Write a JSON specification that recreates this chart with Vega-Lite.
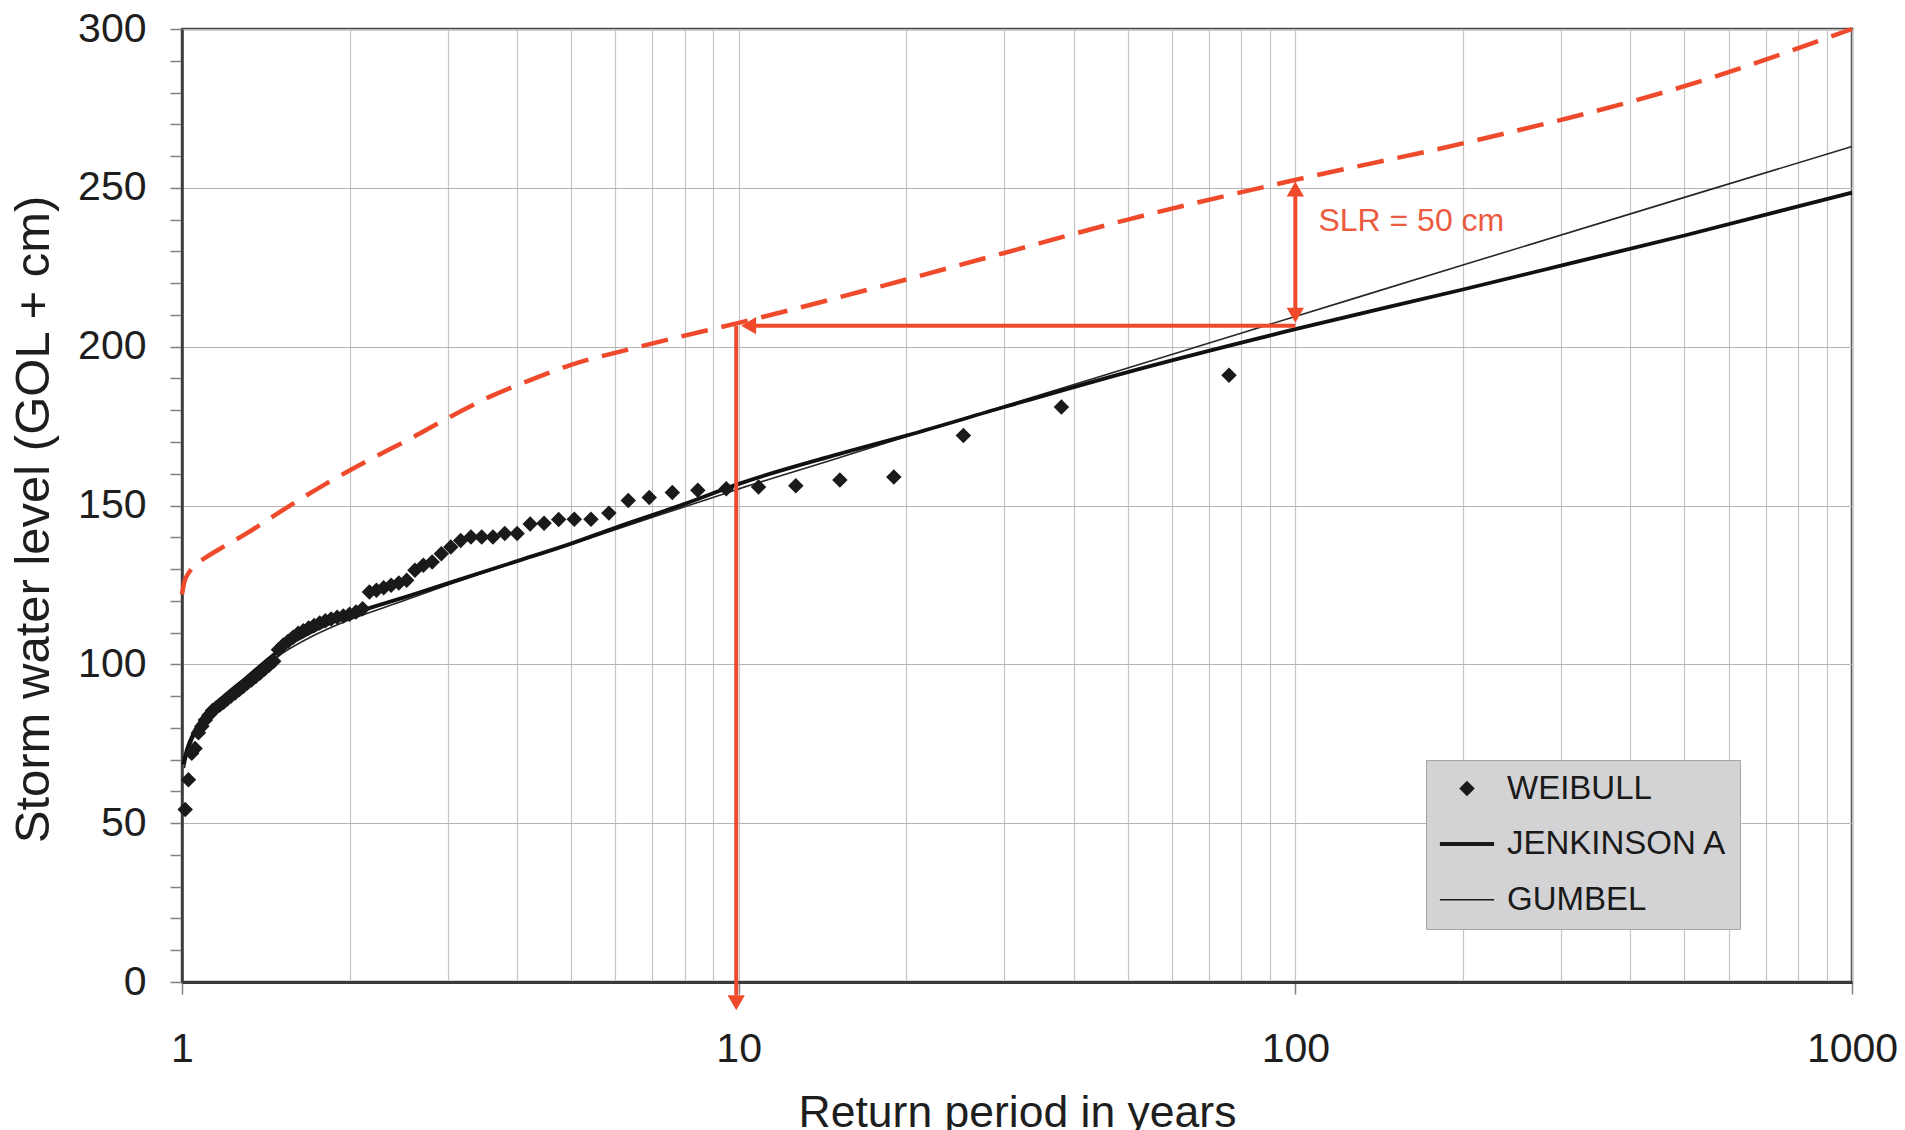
{
  "$schema": "https://vega.github.io/schema/vega-lite/v6.json",
  "width": 1670,
  "height": 953,
  "autosize": {"type": "none"},
  "padding": {"left": 182, "top": 29, "right": 53, "bottom": 148},
  "background": "white",
  "config": {
    "font": "Liberation Sans",
    "view": {"stroke": "#4a4a4a", "strokeWidth": 2.5},
    "axis": {
      "labelFont": "Liberation Sans",
      "titleFont": "Liberation Sans",
      "labelColor": "#1e1e1e",
      "titleColor": "#1e1e1e",
      "titleFontWeight": "normal",
      "labelFontSize": 41,
      "tickSize": 12,
      "tickColor": "#808080",
      "tickWidth": 1.5,
      "domainColor": "#3a3a3a",
      "labelOverlap": false,
      "labelFlush": false
    }
  },
  "datasets": {
    "weibull": [
      {"T": 76, "v": 191, "series": "WEIBULL"},
      {"T": 38, "v": 181, "series": "WEIBULL"},
      {"T": 25.3333, "v": 172, "series": "WEIBULL"},
      {"T": 19, "v": 159, "series": "WEIBULL"},
      {"T": 15.2, "v": 158, "series": "WEIBULL"},
      {"T": 12.6667, "v": 156.2, "series": "WEIBULL"},
      {"T": 10.8571, "v": 155.8, "series": "WEIBULL"},
      {"T": 9.5, "v": 155.3, "series": "WEIBULL"},
      {"T": 8.4444, "v": 154.8, "series": "WEIBULL"},
      {"T": 7.6, "v": 154.1, "series": "WEIBULL"},
      {"T": 6.9091, "v": 152.5, "series": "WEIBULL"},
      {"T": 6.3333, "v": 151.6, "series": "WEIBULL"},
      {"T": 5.8462, "v": 147.6, "series": "WEIBULL"},
      {"T": 5.4286, "v": 145.7, "series": "WEIBULL"},
      {"T": 5.0667, "v": 145.7, "series": "WEIBULL"},
      {"T": 4.75, "v": 145.6, "series": "WEIBULL"},
      {"T": 4.4706, "v": 144.4, "series": "WEIBULL"},
      {"T": 4.2222, "v": 144.2, "series": "WEIBULL"},
      {"T": 4.0, "v": 141.2, "series": "WEIBULL"},
      {"T": 3.8, "v": 141.2, "series": "WEIBULL"},
      {"T": 3.619, "v": 140.1, "series": "WEIBULL"},
      {"T": 3.4545, "v": 140.1, "series": "WEIBULL"},
      {"T": 3.3043, "v": 140.1, "series": "WEIBULL"},
      {"T": 3.1667, "v": 139, "series": "WEIBULL"},
      {"T": 3.04, "v": 136.9, "series": "WEIBULL"},
      {"T": 2.9231, "v": 134.8, "series": "WEIBULL"},
      {"T": 2.8148, "v": 132.2, "series": "WEIBULL"},
      {"T": 2.7143, "v": 131.2, "series": "WEIBULL"},
      {"T": 2.6207, "v": 129.6, "series": "WEIBULL"},
      {"T": 2.5333, "v": 126.5, "series": "WEIBULL"},
      {"T": 2.4516, "v": 125.6, "series": "WEIBULL"},
      {"T": 2.375, "v": 124.9, "series": "WEIBULL"},
      {"T": 2.303, "v": 124.1, "series": "WEIBULL"},
      {"T": 2.2353, "v": 123.3, "series": "WEIBULL"},
      {"T": 2.1714, "v": 122.8, "series": "WEIBULL"},
      {"T": 2.1111, "v": 117.5, "series": "WEIBULL"},
      {"T": 2.0541, "v": 116.5, "series": "WEIBULL"},
      {"T": 2.0, "v": 115.8, "series": "WEIBULL"},
      {"T": 1.9487, "v": 115.2, "series": "WEIBULL"},
      {"T": 1.9, "v": 114.8, "series": "WEIBULL"},
      {"T": 1.8537, "v": 114.3, "series": "WEIBULL"},
      {"T": 1.8095, "v": 113.7, "series": "WEIBULL"},
      {"T": 1.7674, "v": 113, "series": "WEIBULL"},
      {"T": 1.7273, "v": 112.2, "series": "WEIBULL"},
      {"T": 1.6889, "v": 111.4, "series": "WEIBULL"},
      {"T": 1.6522, "v": 110.6, "series": "WEIBULL"},
      {"T": 1.617, "v": 109.8, "series": "WEIBULL"},
      {"T": 1.5833, "v": 108.5, "series": "WEIBULL"},
      {"T": 1.551, "v": 107.3, "series": "WEIBULL"},
      {"T": 1.52, "v": 106.1, "series": "WEIBULL"},
      {"T": 1.4902, "v": 104.6, "series": "WEIBULL"},
      {"T": 1.4615, "v": 101, "series": "WEIBULL"},
      {"T": 1.434, "v": 99.7, "series": "WEIBULL"},
      {"T": 1.4074, "v": 98.5, "series": "WEIBULL"},
      {"T": 1.3818, "v": 97.3, "series": "WEIBULL"},
      {"T": 1.3571, "v": 96.2, "series": "WEIBULL"},
      {"T": 1.3333, "v": 95.1, "series": "WEIBULL"},
      {"T": 1.3103, "v": 94.1, "series": "WEIBULL"},
      {"T": 1.2881, "v": 93, "series": "WEIBULL"},
      {"T": 1.2667, "v": 92, "series": "WEIBULL"},
      {"T": 1.2459, "v": 91, "series": "WEIBULL"},
      {"T": 1.2258, "v": 90, "series": "WEIBULL"},
      {"T": 1.2063, "v": 89.1, "series": "WEIBULL"},
      {"T": 1.1875, "v": 88.1, "series": "WEIBULL"},
      {"T": 1.1692, "v": 87.2, "series": "WEIBULL"},
      {"T": 1.1515, "v": 86.3, "series": "WEIBULL"},
      {"T": 1.1343, "v": 85.5, "series": "WEIBULL"},
      {"T": 1.1176, "v": 84, "series": "WEIBULL"},
      {"T": 1.1014, "v": 82.5, "series": "WEIBULL"},
      {"T": 1.0857, "v": 80.5, "series": "WEIBULL"},
      {"T": 1.0704, "v": 78.5, "series": "WEIBULL"},
      {"T": 1.0556, "v": 73.5, "series": "WEIBULL"},
      {"T": 1.0411, "v": 72, "series": "WEIBULL"},
      {"T": 1.027, "v": 63.7, "series": "WEIBULL"},
      {"T": 1.0133, "v": 54.3, "series": "WEIBULL"}
    ],
    "gumbel": [
      {"T": 1.01, "v": 67.3},
      {"T": 1.02, "v": 71.0},
      {"T": 1.05, "v": 77.0},
      {"T": 1.1, "v": 82.5},
      {"T": 1.2, "v": 89.5},
      {"T": 1.3, "v": 94.5},
      {"T": 1.5, "v": 103},
      {"T": 1.7, "v": 108.5},
      {"T": 2, "v": 114},
      {"T": 2.5, "v": 120},
      {"T": 3, "v": 125},
      {"T": 4, "v": 132.3},
      {"T": 5, "v": 137.8},
      {"T": 6, "v": 142.4},
      {"T": 8, "v": 149.6},
      {"T": 10, "v": 155.2},
      {"T": 15, "v": 164.8},
      {"T": 20, "v": 171.7},
      {"T": 30, "v": 181.3},
      {"T": 50, "v": 193.3},
      {"T": 100, "v": 209.5},
      {"T": 200, "v": 225.7},
      {"T": 500, "v": 247.0},
      {"T": 1000, "v": 263.0}
    ],
    "jenkinson": [
      {"T": 1.005, "v": 68.5},
      {"T": 1.02, "v": 73},
      {"T": 1.05, "v": 78.5},
      {"T": 1.1, "v": 84},
      {"T": 1.2, "v": 90.5},
      {"T": 1.3, "v": 95.5},
      {"T": 1.5, "v": 104.5},
      {"T": 1.7, "v": 110},
      {"T": 2, "v": 115.5},
      {"T": 2.5, "v": 121},
      {"T": 3, "v": 125.5},
      {"T": 4, "v": 132.5},
      {"T": 5, "v": 138},
      {"T": 6, "v": 143},
      {"T": 8, "v": 150.5},
      {"T": 10, "v": 156.8},
      {"T": 15, "v": 166},
      {"T": 20, "v": 172},
      {"T": 30, "v": 181},
      {"T": 50, "v": 192},
      {"T": 100, "v": 205.5},
      {"T": 200, "v": 218},
      {"T": 300, "v": 225.5},
      {"T": 500, "v": 235},
      {"T": 1000, "v": 248.5}
    ],
    "slr": [
      {"T": 1.0, "v": 122},
      {"T": 1.01, "v": 126},
      {"T": 1.03, "v": 129},
      {"T": 1.06, "v": 131.5},
      {"T": 1.1, "v": 133.5},
      {"T": 1.2, "v": 137.5},
      {"T": 1.3, "v": 141},
      {"T": 1.5, "v": 148},
      {"T": 1.8, "v": 156.5},
      {"T": 2.15, "v": 164},
      {"T": 2.6, "v": 171.5},
      {"T": 3.0, "v": 177.5},
      {"T": 3.6, "v": 184.5},
      {"T": 4.3, "v": 190},
      {"T": 5.0, "v": 194.3},
      {"T": 6.3, "v": 199},
      {"T": 7.5, "v": 202.3},
      {"T": 10, "v": 207.5},
      {"T": 13, "v": 212.5},
      {"T": 18, "v": 219},
      {"T": 30, "v": 229.5},
      {"T": 50, "v": 240},
      {"T": 100, "v": 252.5},
      {"T": 200, "v": 264},
      {"T": 500, "v": 282},
      {"T": 1000, "v": 300}
    ],
    "harrow": [{"T": 10.42, "T2": 100, "v": 206.6}],
    "varrow": [
      {"T": 9.9, "v": 206.6, "v2": -4.2},
      {"T": 100, "v": 209.9, "v2": 249.6}
    ],
    "heads": [
      {"T": 10.42, "v": 206.6, "dir": "left"},
      {"T": 9.9, "v": -6.55, "dir": "down"},
      {"T": 100, "v": 249.6, "dir": "up"},
      {"T": 100, "v": 209.9, "dir": "down"}
    ],
    "note": [{"T": 110, "v": 239.5, "label": "SLR = 50 cm"}]
  },
  "encoding": {
    "x": {
      "field": "T",
      "type": "quantitative",
      "scale": {"type": "log", "domain": [1, 1000], "nice": false},
      "axis": {
        "title": "Return period in years",
        "titleFontSize": 44.5,
        "titlePadding": 22,
        "values": [1, 2, 3, 4, 5, 6, 7, 8, 9, 10, 20, 30, 40, 50, 60, 70, 80, 90, 100, 200, 300, 400, 500, 600, 700, 800, 900, 1000],
        "labelExpr": "(datum.value == 1 || datum.value == 10 || datum.value == 100 || datum.value == 1000) ? format(datum.value, 'd') : ''",
        "labelPadding": 35,
        "tickOpacity": {"condition": {"test": "datum.value == 1 || datum.value == 10 || datum.value == 100 || datum.value == 1000", "value": 1}, "value": 0},
        "grid": true,
        "gridColor": "#c4c4c4",
        "gridWidth": 1.2,
        "domainWidth": 3
      }
    },
    "y": {
      "field": "v",
      "type": "quantitative",
      "scale": {"domain": [0, 300], "nice": false, "zero": false},
      "axis": {
        "title": "Storm water level (GOL + cm)",
        "titleFontSize": 49,
        "titlePadding": 19,
        "titleY": 490,
        "values": [0, 10, 20, 30, 40, 50, 60, 70, 80, 90, 100, 110, 120, 130, 140, 150, 160, 170, 180, 190, 200, 210, 220, 230, 240, 250, 260, 270, 280, 290, 300],
        "labelExpr": "datum.value % 50 == 0 ? format(datum.value, 'd') : ''",
        "labelPadding": 24,
        "grid": true,
        "gridColor": "#b4b4b4",
        "gridWidth": 1.2,
        "gridOpacity": {"condition": {"test": "datum.value % 50 == 0", "value": 1}, "value": 0},
        "domainWidth": 2.5
      }
    }
  },
  "layer": [
    {
      "data": {"name": "gumbel"},
      "mark": {"type": "line", "color": "#262626", "strokeWidth": 1.6, "interpolate": "monotone"},
      "encoding": {}
    },
    {
      "data": {"name": "jenkinson"},
      "mark": {"type": "line", "color": "#111111", "strokeWidth": 3.8, "interpolate": "monotone"},
      "encoding": {}
    },
    {
      "data": {"name": "weibull"},
      "mark": {"type": "point", "shape": "diamond", "filled": true, "size": 240, "opacity": 1},
      "encoding": {
        "color": {
          "field": "series",
          "type": "nominal",
          "scale": {"domain": ["WEIBULL", "JENKINSON A", "GUMBEL"], "range": ["#1a1a1a", "#1a1a1a", "#1a1a1a"]},
          "legend": {
            "title": null,
            "orient": "none",
            "legendX": 1244,
            "legendY": 731,
            "fillColor": "#d3d3d5",
            "strokeColor": "#a6a6a6",
            "padding": 12,
            "labelFont": "Liberation Sans",
            "labelFontSize": 33,
            "labelColor": "#1a1a1a",
            "labelLimit": 400,
            "symbolSize": 240,
            "symbolOffset": 12.5,
            "labelOffset": 23.5,
            "rowPadding": 21.6,
            "encoding": {
              "symbols": {
                "shape": {"value": {"expr": "datum.value === 'WEIBULL' ? 'diamond' : 'M-3.5,0L3.5,0'"}},
                "fill": {"value": {"expr": "datum.value === 'WEIBULL' ? '#1a1a1a' : 'transparent'"}},
                "stroke": {"value": "#1a1a1a"},
                "strokeWidth": {"value": {"expr": "datum.value === 'WEIBULL' ? 0 : (datum.value === 'JENKINSON A' ? 4 : 1.6)"}},
                "opacity": {"value": 1},
                "size": {"value": 240}
              }
            }
          }
        }
      }
    },
    {
      "data": {"name": "slr"},
      "mark": {"type": "line", "color": "#ef4a2c", "strokeWidth": 4.5, "strokeDash": [27, 14], "interpolate": "monotone"},
      "encoding": {}
    },
    {
      "data": {"name": "harrow"},
      "mark": {"type": "rule", "color": "#ef4a2c", "strokeWidth": 4},
      "encoding": {"x2": {"field": "T2"}}
    },
    {
      "data": {"name": "varrow"},
      "mark": {"type": "rule", "color": "#ef4a2c", "strokeWidth": 4},
      "encoding": {"y2": {"field": "v2"}}
    },
    {
      "data": {"name": "heads"},
      "mark": {"type": "point", "filled": true, "size": 300, "color": "#ef4a2c", "opacity": 1},
      "encoding": {
        "shape": {
          "field": "dir",
          "type": "nominal",
          "scale": {"domain": ["left", "down", "up"], "range": ["triangle-left", "triangle-down", "triangle-up"]},
          "legend": null
        }
      }
    },
    {
      "data": {"name": "note"},
      "mark": {"type": "text", "align": "left", "baseline": "middle", "fontSize": 32, "font": "Liberation Sans", "color": "#ec5a40"},
      "encoding": {"text": {"field": "label"}}
    }
  ]
}
